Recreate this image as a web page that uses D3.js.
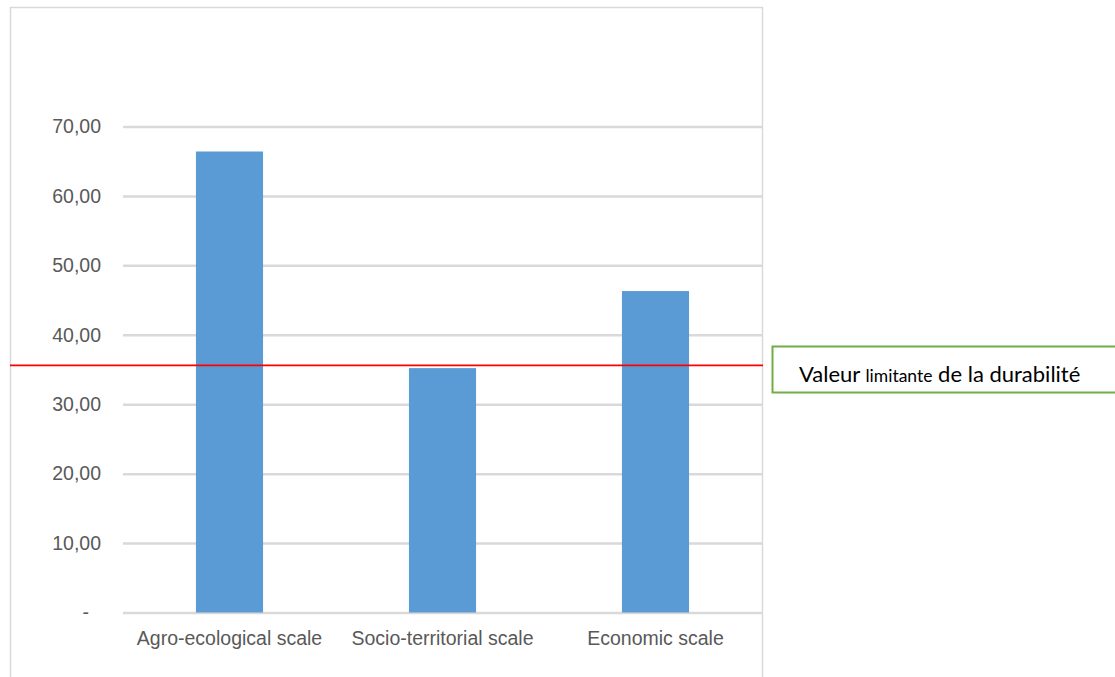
<!DOCTYPE html>
<html>
<head>
<meta charset="utf-8">
<script src="https://cdn.jsdelivr.net/npm/d3@7"></script>
<style>
  body { margin: 0; background: #fff; }
  svg { display: block; }
  .tick text { font-family: 'Liberation Sans', Arial, sans-serif; fill: #595959; }
</style>
</head>
<body>
<svg width="1115" height="677"></svg>
<script>
const categories = ['Agro-ecological scale', 'Socio-territorial scale', 'Economic scale'];
const scores = [66.4, 35.2, 46.3];
const yTicks = [0, 10, 20, 30, 40, 50, 60, 70];
const threshold = [35.6];
const noteParts = [['Valeur ', 22], ['limitante', 17.5], [' de la durabilité', 22]];

const svg = d3.select('svg');

const margin = { top: 126.5, bottom: 64.5, left: 123, right: 353 };
const width = +svg.attr('width');
const height = +svg.attr('height');
const innerWidth = width - margin.left - margin.right;
const innerHeight = height - margin.top - margin.bottom;

// chart frame (runs off the bottom of the picture)
svg.append('rect')
    .attr('x', 10.5)
    .attr('y', 7.5)
    .attr('width', 752)
    .attr('height', 700)
    .attr('fill', '#fff')
    .attr('stroke', '#d9d9d9')
    .attr('stroke-width', 1.5);

const xScale = d3.scaleBand()
    .domain(categories)
    .range([0, innerWidth])
    .paddingInner(0.685)
    .paddingOuter(0.3425);

const yScale = d3.scaleLinear()
    .domain([0, 70])
    .range([innerHeight, 0]);

const g = svg.append('g')
    .attr('transform', `translate(${margin.left}, ${margin.top})`);

const fmt = (d) => d === 0 ? '-' : d3.format('.2f')(d).replace('.', ',');

const yAxisG = g.append('g')
    .call(d3.axisLeft(yScale).tickValues(yTicks).tickSize(-innerWidth).tickFormat(fmt).tickPadding(22));
yAxisG.select('.domain').remove();
yAxisG.selectAll('.tick line')
    .attr('stroke', '#d9d9d9')
    .attr('stroke-width', 2.5);
yAxisG.selectAll('.tick text')
    .attr('font-size', 19.5);
yAxisG.selectAll('.tick')
    .filter((d) => d === 0)
    .select('text')
    .attr('dx', -12);

g.selectAll('rect.bar')
    .data(scores)
    .enter()
    .append('rect')
    .attr('class', 'bar')
    .attr('x', (d, i) => xScale(categories[i]))
    .attr('y', (d) => yScale(d))
    .attr('width', xScale.bandwidth())
    .attr('height', (d) => innerHeight - yScale(d))
    .attr('fill', '#5b9bd5');

const xAxisG = g.append('g')
    .attr('transform', `translate(0, ${innerHeight})`)
    .call(d3.axisBottom(xScale).tickSize(0).tickPadding(19));
xAxisG.select('.domain').remove();
xAxisG.selectAll('.tick text')
    .attr('font-size', 19.5);

// threshold line
g.selectAll('line.limit')
    .data(threshold)
    .enter()
    .append('line')
    .attr('class', 'limit')
    .attr('x1', 10 - margin.left)
    .attr('x2', 763 - margin.left)
    .attr('y1', (d) => yScale(d))
    .attr('y2', (d) => yScale(d))
    .attr('stroke', '#ff0000')
    .attr('stroke-width', 1.6);

// note box
svg.append('rect')
    .attr('x', 772.5)
    .attr('y', 346.5)
    .attr('width', 360)
    .attr('height', 46)
    .attr('fill', '#fff')
    .attr('stroke', '#70ad47')
    .attr('stroke-width', 2);

const note = svg.append('text')
    .attr('x', 799)
    .attr('y', 382)
    .attr('font-family', 'Lato, Carlito, Calibri, sans-serif')
    .attr('font-weight', 400)
    .attr('fill', '#000');
note.selectAll('tspan')
    .data(noteParts)
    .enter()
    .append('tspan')
    .attr('font-size', (d) => d[1])
    .text((d) => d[0]);
</script>
</body>
</html>
